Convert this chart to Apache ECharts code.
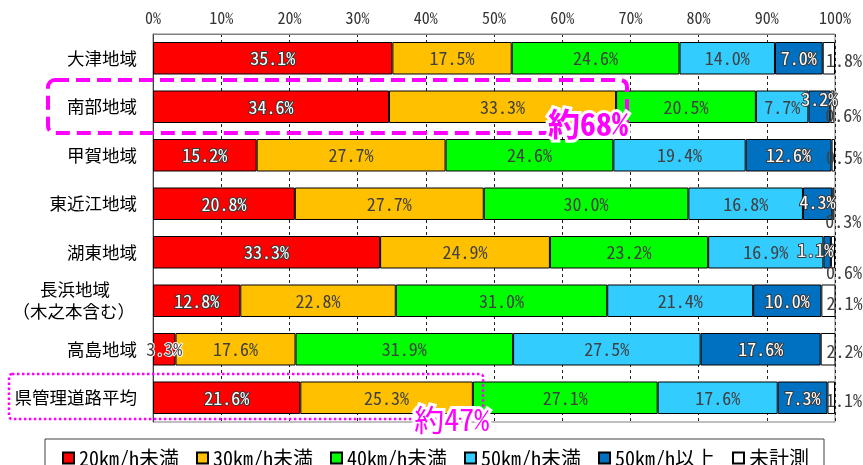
<!DOCTYPE html>
<html>
<head>
<meta charset="utf-8">
<script src="https://cdn.jsdelivr.net/npm/echarts@6/dist/echarts.min.js"></script>
<style>
  html, body { margin: 0; padding: 0; background: #fff; }
  #chart { width: 863px; height: 465px; }
</style>
</head>
<body>
<div id="chart"></div>
<script>
// Regions (top to bottom) and speed bands
const regions = ['大津地域', '南部地域', '甲賀地域', '東近江地域', '湖東地域', '長浜地域\n（木之本含む）', '高島地域', '県管理道路平均'];
const speedBands = ['20km/h未満', '30km/h未満', '40km/h未満', '50km/h未満', '50km/h以上', '未計測'];

// Share of each speed band per region (%)
const under20 = [35.1, 34.6, 15.2, 20.8, 33.3, 12.8, 3.3, 21.6];
const under30 = [17.5, 33.3, 27.7, 27.7, 24.9, 22.8, 17.6, 25.3];
const under40 = [24.6, 20.5, 24.6, 30.0, 23.2, 31.0, 31.9, 27.1];
const under50 = [14.0, 7.7, 19.4, 16.8, 16.9, 21.4, 27.5, 17.6];
const over50 = [7.0, 3.2, 12.6, 4.3, 1.1, 10.0, 17.6, 7.3];
const unmeasured = [1.8, 0.6, 0.5, 0.3, 0.6, 2.1, 2.2, 1.1];

// Callout values
const nanbuShare = 68;
const averageShare = 47;

const seriesValues = [under20, under30, under40, under50, over50, unmeasured];
const colors = ['#FF0000', '#FFC000', '#00FF00', '#33CCFF', '#0070C0', '#FFFFFF'];
const outlinedSeries = [0, 4]; // white text with dark outline on dark fills

const MONO = '"Noto Sans Mono CJK JP", "DejaVu Sans Mono", monospace';
const JP = '"Noto Sans CJK JP", "Noto Sans", sans-serif';

// Label nudges for crowded small segments: seriesIndex -> rowIndex -> [dx, dy]
const labelNudges = {
  4: { 1: [0, -8], 3: [0, -2], 4: [-12, -2] },
  5: { 1: [-9, 8], 3: [-9, 17], 4: [-9, 20] }
};
const defaultNudge = { 5: [-9, 2] };

function fmt(v) { return v.toFixed(1) + '%'; }

const series = seriesValues.map((vals, si) => {
  const outlined = outlinedSeries.includes(si);
  const isLast = si === seriesValues.length - 1;
  return {
    name: speedBands[si],
    type: 'bar',
    stack: 'total',
    barWidth: '67%',
    itemStyle: { color: colors[si], borderColor: '#000', borderWidth: 1 },
    label: {
      show: true,
      position: isLast ? 'right' : 'inside',
      distance: 0,
      offset: defaultNudge[si] || [0, 0],
      formatter: p => fmt(p.value),
      fontFamily: MONO,
      fontSize: 18,
      color: outlined ? '#fff' : '#404040',
      textBorderColor: outlined ? '#3a3a3a' : 'transparent',
      textBorderWidth: outlined ? 2 : 0
    },
    emphasis: { disabled: true },
    data: vals.map((v, ri) => {
      const item = { value: v };
      const n = labelNudges[si] && labelNudges[si][ri];
      if (n) item.label = { offset: n };
      // a sliver too thin for an outlined label: plain dark text instead
      if (outlined && v < 5 && si === 0) {
        item.label = Object.assign(item.label || {}, { color: '#404040', textBorderColor: '#fff', textBorderWidth: 2 });
      }
      return item;
    })
  };
});

const chart = echarts.init(document.getElementById('chart'), null, { renderer: 'canvas' });

// two-line region names: first line centred over the second
function regionLabel(v) {
  if (v.indexOf('\n') < 0) return v;
  const parts = v.split('\n');
  return '{a|' + parts[0] + '}\n{b|' + parts[1] + '}';
}

chart.setOption({
  animation: false,
  grid: { left: 153, right: 28, top: 34, bottom: 43, show: true, borderColor: '#808080', borderWidth: 1, backgroundColor: 'transparent' },
  legend: {
    data: speedBands,
    left: 57,
    top: 443,
    itemWidth: 11,
    itemHeight: 11,
    itemGap: 17,
    icon: 'rect',
    textStyle: { fontFamily: MONO, fontSize: 20, color: '#000' },
    selectedMode: false
  },
  xAxis: {
    type: 'value',
    position: 'top',
    min: 0,
    max: 100,
    interval: 10,
    axisLine: { show: true, lineStyle: { color: '#808080' } },
    axisTick: { show: false },
    axisLabel: { formatter: '{value}%', margin: 8, fontFamily: MONO, fontSize: 16, color: '#333' },
    splitLine: { show: true, lineStyle: { color: '#222', type: [3, 3], width: 1 } }
  },
  yAxis: {
    type: 'category',
    inverse: true,
    data: regions,
    axisLine: { show: true, lineStyle: { color: '#404040' } },
    axisTick: { show: false },
    axisLabel: {
      margin: 16,
      fontFamily: JP,
      fontSize: 17.5,
      color: '#000',
      formatter: regionLabel,
      rich: {
        a: { fontFamily: JP, fontSize: 17.5, lineHeight: 22, color: '#000', padding: [0, 27, 0, 0] },
        b: { fontFamily: JP, fontSize: 17.5, lineHeight: 22, color: '#000', padding: [0, 2, 0, 0] }
      }
    },
    splitLine: { show: false }
  },
  series: series
});

// Callout boxes placed from the axes
const xOf = v => chart.convertToPixel({ xAxisIndex: 0 }, v);
const yOf = c => chart.convertToPixel({ yAxisIndex: 0 }, c);
const band = yOf(regions[1]) - yOf(regions[0]);

const nanbuY = yOf(regions[1]);
const avgY = yOf(regions[7]);
const nanbuRight = xOf(69.5);
const avgRight = xOf(48.4);

const box1 = { x: 48, y: nanbuY - band / 2 - 2.5, x2: nanbuRight, y2: nanbuY + band / 2 + 2 };
const box2 = { x: 9, y: avgY - band / 2 + 0.5, x2: avgRight, y2: avgY + band / 2 - 3 };

function calloutText(txt, x, y, size, weight) {
  const font = weight + ' ' + size + 'px ' + MONO;
  return [
    { type: 'text', z: 100, silent: true, style: { text: txt, x, y, align: 'right', verticalAlign: 'middle', font, fill: '#fff', stroke: '#fff', lineWidth: 6 } },
    { type: 'text', z: 101, silent: true, style: { text: txt, x, y, align: 'right', verticalAlign: 'middle', font, fill: '#FF00FF' } }
  ];
}

chart.setOption({
  graphic: [
    {
      type: 'rect', z: 90, silent: true,
      shape: { x: box1.x, y: box1.y, width: box1.x2 - box1.x, height: box1.y2 - box1.y, r: 7 },
      style: { fill: 'none', stroke: '#FF00FF', lineWidth: 4, lineDash: [14, 7] }
    },
    {
      type: 'rect', z: 90, silent: true,
      shape: { x: box2.x, y: box2.y, width: box2.x2 - box2.x, height: box2.y2 - box2.y, r: 3 },
      style: { fill: 'none', stroke: '#FF00FF', lineWidth: 2.5, lineDash: [2.5, 2.5] }
    },
    ...calloutText('約' + nanbuShare + '%', nanbuRight + 1, box1.y2 - 9, 32, 'bold'),
    ...calloutText('約' + averageShare + '%', xOf(49.3), box2.y2 + 1, 30, 'normal'),
    {
      type: 'rect', z: 80, silent: true,
      shape: { x: 45, y: 439, width: 779, height: 40 },
      style: { fill: 'none', stroke: '#404040', lineWidth: 1 }
    }
  ]
});
</script>
</body>
</html>
